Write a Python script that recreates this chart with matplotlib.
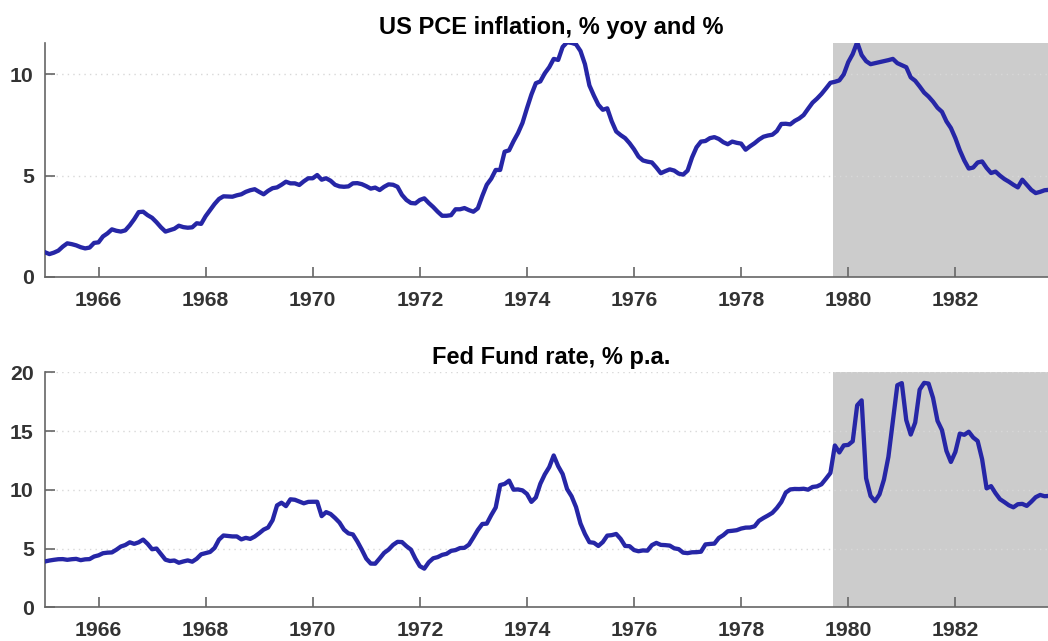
import numpy as np
import matplotlib
matplotlib.use('Agg')
import matplotlib.pyplot as plt

# monthly data, Jan 1965 - Oct 1983
start_year = 1965

# US PCE inflation, % yoy
pce = [
    1.22, 1.13, 1.20, 1.30, 1.50, 1.66, 1.62, 1.56, 1.47, 1.41, 1.45, 1.68,   # 1965
    1.71, 2.00, 2.15, 2.35, 2.28, 2.24, 2.30, 2.55, 2.85, 3.20, 3.22, 3.05,   # 1966
    2.92, 2.70, 2.45, 2.24, 2.31, 2.38, 2.53, 2.46, 2.43, 2.45, 2.65, 2.62,   # 1967
    3.00, 3.30, 3.60, 3.85, 3.98, 3.97, 3.96, 4.03, 4.08, 4.20, 4.28, 4.33,   # 1968
    4.20, 4.08, 4.25, 4.38, 4.42, 4.55, 4.70, 4.62, 4.62, 4.54, 4.72, 4.87,   # 1969
    4.87, 5.03, 4.80, 4.87, 4.75, 4.55, 4.47, 4.45, 4.47, 4.62, 4.63, 4.58,   # 1970
    4.48, 4.36, 4.41, 4.29, 4.45, 4.57, 4.55, 4.45, 4.05, 3.80, 3.65, 3.63,   # 1971
    3.80, 3.88, 3.65, 3.45, 3.22, 3.02, 3.02, 3.05, 3.34, 3.34, 3.40, 3.30,   # 1972
    3.22, 3.39, 4.00, 4.55, 4.85, 5.28, 5.28, 6.18, 6.25, 6.70, 7.10, 7.60,   # 1973
    8.32, 9.00, 9.56, 9.65, 10.05, 10.35, 10.76, 10.71, 11.35, 11.58, 11.55, 11.48,  # 1974
    11.15, 10.50, 9.45, 8.95, 8.50, 8.25, 8.32, 7.68, 7.18, 7.00, 6.85, 6.60,  # 1975
    6.30, 5.94, 5.75, 5.69, 5.65, 5.40, 5.12, 5.22, 5.31, 5.25, 5.10, 5.05,   # 1976
    5.25, 5.90, 6.40, 6.68, 6.71, 6.85, 6.90, 6.81, 6.65, 6.55, 6.68, 6.62,   # 1977
    6.58, 6.28, 6.45, 6.60, 6.78, 6.92, 6.98, 7.02, 7.20, 7.55, 7.56, 7.53,   # 1978
    7.70, 7.82, 7.99, 8.30, 8.60, 8.80, 9.03, 9.30, 9.58, 9.63, 9.70, 10.00,  # 1979
    10.60, 11.00, 11.58, 10.95, 10.65, 10.50, 10.55, 10.60, 10.65, 10.70, 10.76, 10.55,  # 1980
    10.45, 10.35, 9.85, 9.68, 9.40, 9.10, 8.90, 8.65, 8.35, 8.15, 7.68, 7.35,  # 1981
    6.85, 6.25, 5.75, 5.35, 5.40, 5.65, 5.70, 5.38, 5.13, 5.20, 5.00, 4.83,   # 1982
    4.70, 4.55, 4.42, 4.80, 4.55, 4.30, 4.14, 4.20, 4.28, 4.30,               # 1983
]

# Fed funds rate, % p.a.
fed_funds = [
    3.90, 3.98, 4.04, 4.09, 4.10, 4.04, 4.09, 4.12, 4.01, 4.08, 4.10, 4.32,
    4.42, 4.60, 4.65, 4.67, 4.90, 5.17, 5.30, 5.53, 5.40, 5.53, 5.76, 5.40,
    4.94, 5.00, 4.53, 4.05, 3.94, 3.98, 3.79, 3.90, 3.99, 3.88, 4.13, 4.51,
    4.61, 4.71, 5.05, 5.76, 6.11, 6.07, 6.03, 6.03, 5.78, 5.91, 5.82, 6.02,
    6.30, 6.61, 6.79, 7.41, 8.67, 8.90, 8.61, 9.19, 9.15, 9.00, 8.85, 8.97,
    8.98, 8.98, 7.76, 8.10, 7.94, 7.60, 7.21, 6.61, 6.29, 6.20, 5.60, 4.90,
    4.14, 3.72, 3.71, 4.16, 4.63, 4.91, 5.31, 5.57, 5.55, 5.20, 4.91, 4.14,
    3.50, 3.29, 3.83, 4.17, 4.27, 4.46, 4.55, 4.80, 4.87, 5.04, 5.06, 5.33,
    5.94, 6.58, 7.09, 7.12, 7.84, 8.49, 10.40, 10.50, 10.78, 10.01, 10.03, 9.95,
    9.65, 8.97, 9.35, 10.51, 11.31, 11.93, 12.92, 12.01, 11.34, 10.06, 9.45, 8.53,
    7.13, 6.24, 5.54, 5.49, 5.22, 5.55, 6.10, 6.14, 6.24, 5.82, 5.22, 5.20,
    4.87, 4.77, 4.84, 4.82, 5.29, 5.48, 5.31, 5.29, 5.25, 5.02, 4.95, 4.65,
    4.61, 4.68, 4.69, 4.73, 5.35, 5.39, 5.42, 5.90, 6.14, 6.47, 6.51, 6.56,
    6.70, 6.78, 6.79, 6.89, 7.36, 7.60, 7.81, 8.04, 8.45, 8.96, 9.76, 10.03,
    10.07, 10.06, 10.09, 10.01, 10.24, 10.29, 10.47, 10.94, 11.43, 13.77, 13.18, 13.78,
    13.82, 14.13, 17.19, 17.61, 10.98, 9.47, 9.03, 9.61, 10.87, 12.81, 15.85, 18.90,
    19.08, 15.93, 14.70, 15.72, 18.52, 19.10, 19.04, 17.82, 15.87, 15.08, 13.31, 12.37,
    13.22, 14.78, 14.68, 14.94, 14.45, 14.15, 12.59, 10.12, 10.31, 9.71, 9.20, 8.95,
    8.68, 8.51, 8.77, 8.80, 8.63, 8.98, 9.37, 9.56, 9.45, 9.48,
]

shade_start = 1979.71   # Volcker period shading
x_ticks = [1966, 1968, 1970, 1972, 1974, 1976, 1978, 1980, 1982]

line_color = '#2626a6'
shade_color = '#cccccc'
axis_color = '#666666'

plt.rcParams['font.family'] = ['Liberation Sans', 'DejaVu Sans']
plt.rcParams['font.weight'] = 'bold'

t_pce = start_year + np.arange(len(pce)) / 12
t_ff = start_year + np.arange(len(fed_funds)) / 12

fig = plt.figure(figsize=(10.48, 6.41), dpi=100)
ax1 = fig.add_axes([0.0429, 0.5679, 0.9571, 0.3655])
ax2 = fig.add_axes([0.0429, 0.0526, 0.9571, 0.3666])

panels = [
    (ax1, t_pce, pce, 'US PCE inflation, % yoy and %', 11.56, [0, 5, 10]),
    (ax2, t_ff, fed_funds, 'Fed Fund rate, % p.a.', 20, [0, 5, 10, 15, 20]),
]

for ax, t, y, title, ytop, yticks in panels:
    xmax = 1983.73
    ax.axvspan(shade_start, xmax + 1, color=shade_color, lw=0, zorder=0)
    ax.plot(t, y, color=line_color, lw=3.1, zorder=3, solid_joinstyle='round')
    ax.set_xlim(1965, xmax)
    ax.set_ylim(0, ytop)
    ax.set_xticks(x_ticks)
    ax.set_yticks(yticks)
    for yt in yticks:
        if yt > 0:
            ax.axhline(yt, color='#d8d8d8', lw=1, ls=(0, (1, 3)), zorder=1)
    for side in ['top', 'right']:
        ax.spines[side].set_visible(False)
    for side in ['left', 'bottom']:
        ax.spines[side].set_color(axis_color)
        ax.spines[side].set_linewidth(1.2)
    ax.tick_params(direction='in', length=7, width=1.2, color=axis_color,
                   labelsize=15.3, labelcolor='#333333', pad=8)
    ax.tick_params(axis='x', pad=10)
    for lab in ax.get_xticklabels() + ax.get_yticklabels():
        lab.set_fontweight('bold')
    ax.set_title(title, fontsize=17, fontweight='bold', pad=6, x=0.505)

fig.savefig('out.png', dpi=100)
